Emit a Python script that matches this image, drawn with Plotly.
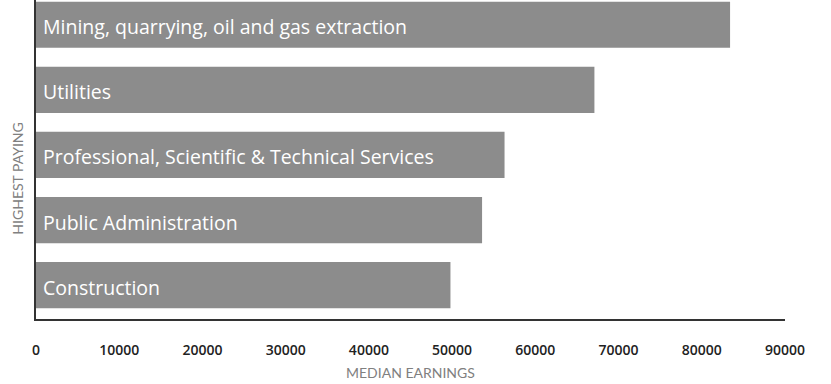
import plotly.graph_objects as go

categories = ["Construction", "Public Administration",
              "Professional, Scientific & Technical Services",
              "Utilities", "Mining, quarrying, oil and gas extraction"]
earnings = [49800, 53600, 56300, 67100, 83400]
tick_values = [0, 10000, 20000, 30000, 40000, 50000, 60000, 70000, 80000, 90000]
tick_labels = [str(v) for v in tick_values]

W, H = 831, 384
ML, MR, MT, MB = 36, 46, 0, 65

fig = go.Figure(go.Bar(
    y=list(range(len(categories))), x=earnings, orientation="h",
    marker=dict(color="#8c8c8c", line=dict(width=0)),
    width=0.71, hoverinfo="skip",
))

for i, c in enumerate(categories):
    fig.add_annotation(x=0, y=i, xref="x", yref="y", text=c, showarrow=False,
                       xanchor="left", yanchor="middle", xshift=5, yshift=-2,
                       font=dict(family="Open Sans", size=19.5, color="white"))

fig.add_annotation(x=0.5, y=0, xref="paper", yref="paper", text="MEDIAN EARNINGS",
                   showarrow=False, xanchor="center", yanchor="middle", yshift=-53,
                   font=dict(family="Lato", size=14, color="#808080"))
fig.add_annotation(x=0, y=0.44, xref="paper", yref="paper", text="HIGHEST PAYING",
                   showarrow=False, textangle=-90, xanchor="center", yanchor="middle",
                   xshift=-18, font=dict(family="Lato", size=14, color="#808080"))

fig.update_layout(
    width=W, height=H, margin=dict(l=ML, r=MR, t=MT, b=MB),
    paper_bgcolor="white", plot_bgcolor="white", showlegend=False,
    xaxis=dict(range=[0, 90000], tickvals=tick_values, ticktext=tick_labels,
               showgrid=False, zeroline=False, showline=True, linecolor="#333333",
               linewidth=1.5, ticks="", ticklabelstandoff=17,
               tickfont=dict(family="Open Sans", size=14, color="#222222", weight=600)),
    yaxis=dict(range=[-0.52, 4.38], showgrid=False, zeroline=False, showline=True,
               linecolor="#333333", linewidth=2, showticklabels=False, ticks=""),
)

fig.write_html("out.html", config={"displayModeBar": False},
               post_script="document.body.style.margin='0';")
